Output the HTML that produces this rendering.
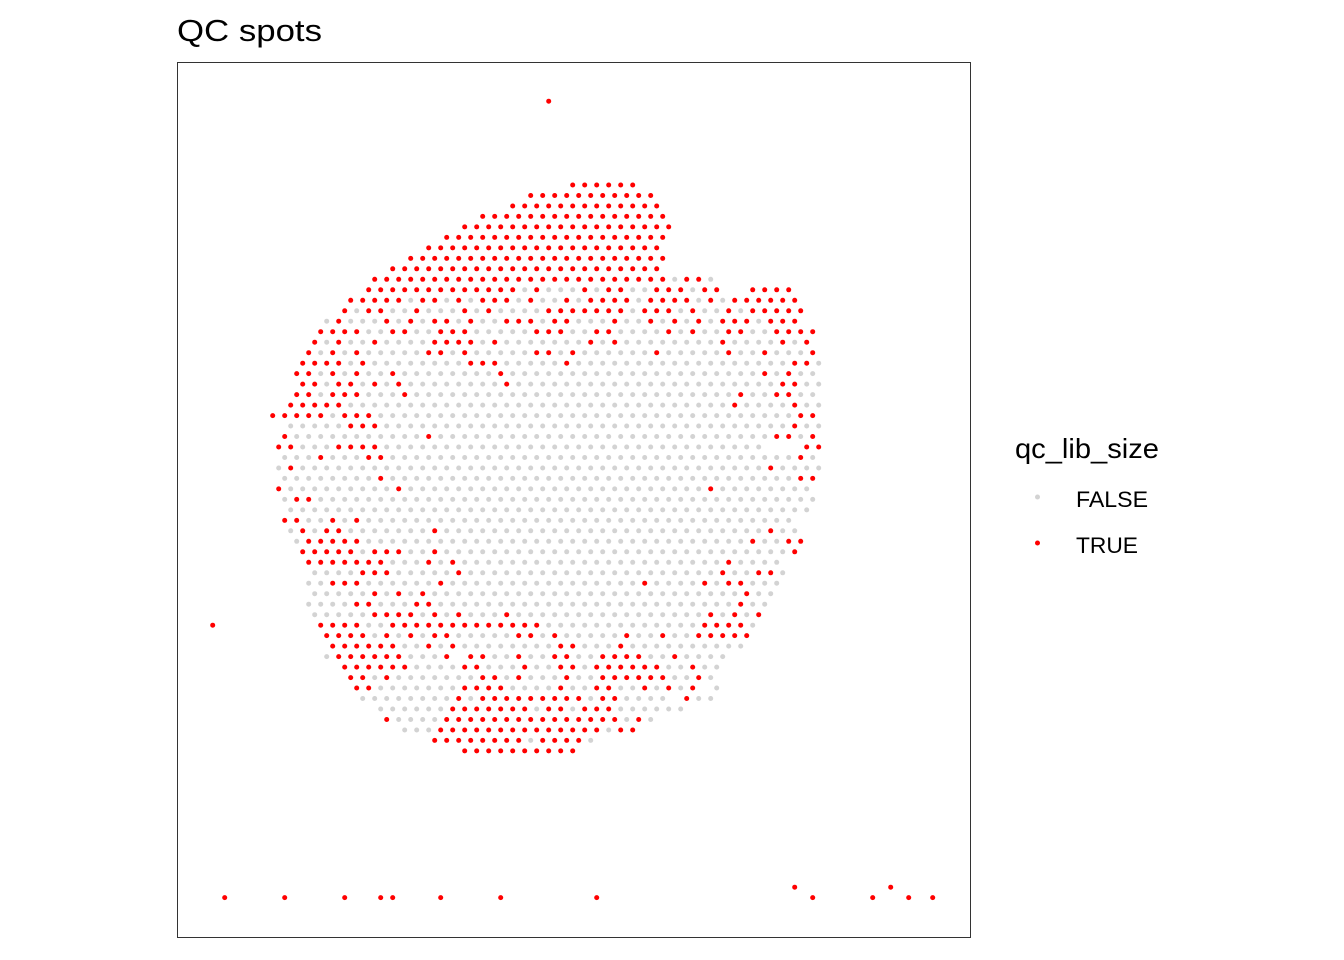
<!DOCTYPE html>
<html><head><meta charset="utf-8"><title>QC spots</title>
<style>html,body{margin:0;padding:0;background:#fff;}svg{display:block;font-family:"Liberation Sans",Arial,sans-serif;}</style>
</head><body>
<svg id="chart" width="1344" height="960" viewBox="0 0 1344 960">
<rect x="0" y="0" width="1344" height="960" fill="#fff"/>
<text x="177" y="41" font-size="31" textLength="145" lengthAdjust="spacingAndGlyphs" fill="#000">QC spots</text>
<rect x="177.5" y="62.5" width="793" height="875" fill="none" stroke="#333" stroke-width="1"/>
<g id="spots"></g>
<g>
<text x="1015" y="458" font-size="28" textLength="144" lengthAdjust="spacingAndGlyphs" fill="#000">qc_lib_size</text>
<circle cx="1037.5" cy="497" r="2.5" fill="#D3D3D3"/>
<text x="1076" y="507" font-size="22.5" textLength="72" lengthAdjust="spacingAndGlyphs" fill="#000">FALSE</text>
<circle cx="1037.5" cy="543" r="2.5" fill="#FF0000"/>
<text x="1076" y="553" font-size="22.5" textLength="62" lengthAdjust="spacingAndGlyphs" fill="#000">TRUE</text>
</g>
</svg>
<script>
// Tissue rows: startCol / endCol per row; columns step by 2 (hex grid)
const rowStart = [50,43,40,35,32,29,26,23,20,17,16,13,12,9,8,7,6,5,4,5,4,3,0,3,2,1,2,1,2,1,2,3,2,3,4,5,6,7,6,7,6,7,8,9,10,9,12,13,14,15,18,19,22,27,32];
const rowEnd   = [60,63,64,65,66,65,64,65,64,73,86,87,88,87,90,89,90,91,90,91,90,91,90,91,90,91,90,91,90,89,90,89,86,87,88,87,84,85,84,83,82,81,80,79,78,75,74,73,74,73,68,63,60,53,50];
// Red (qc_lib_size TRUE) spots per row; "a-b" means a range
const rowTrue = [
"50-60","43-63","40-64","35-65","32-66","29-65","26-64","23-65","20-64",
"17-65,69,71",
"16-40,44,52,56,58,64,66,68,72,74,80,82,84,86",
"13,15,17,19,21,25,27,31,35,37,39,43,49,53,55,57,59,63,65,67,69,73,77,79,81,83,85,87",
"12,16,18,24,32,36,46-58,62,64,66,70,76,80,82,84,86,88",
"11,19,23,27,29,33,39,41,43,47,49,57,63,67,71,75,77,79,83,85,87",
"8,10,12,14,20,22,28,30,32,44,46,48,54,56,66,70,76,78,84,86,88,90",
"7,11,17,27,29,31,33,37,53,57,75,85,89",
"6,10,14,26,28,32,44,46,50,64,76,82,90",
"5,7,9,11,15,33,35,37,49,87,89",
"4,6,10,14,20,38,82,86",
"5,7,11,13,17,21,39,85,87",
"4,6,10,12,14,22,78,84,86",
"3,5,7,9,11,77,87",
"0,2,4,6,8,12,14,16,88,90",
"13,15,17,87",
"2,26,84,86,90",
"1,3,11,13,15,17,89,91",
"8,16,18,88",
"3,83",
"18,88,90",
"1,21,73",
"4,6",
"",
"2,4,10,14",
"5,9,11,27,83",
"6,8,10,12,14,80,86,88",
"5,7,9,11,13,17,19,21,27,87",
"6-18,26,30,76",
"15,17,19,31,75,81,83",
"10,12,14,28,62,72,76,78",
"17,21,25,79",
"14,16,24,26,78",
"17,19,21,23,27,31,39,73,77,81",
"8,10,12,14,20-44,72-78",
"9,11,13,15,19,23,27,29,41,43,47,59,65,71-79",
"10-20,26,30,48,50,58",
"11-21,29,33,35,41,47,49,55-61,67",
"12-22,32,34,42,48,50,54-64,70",
"13,15,19,35,37,41,49,55-65,71",
"14,16,32,34,36,38,48,54,56,62,66,70",
"31,35-51,55,57,69",
"30-42,46,48,52,54,56",
"19,29-57,61",
"28-54,58,60",
"27-41,45-51",
"32-50"];
// Missing spots inside row ranges: "row:col"
const gaps = ["10:76","10:78","25:83","25:85","25:87","45:31","48:72","49:67"];
// Isolated off-tissue spots (all TRUE): grid rows / columns
const outRow = [-8,42,68,68,68,68,68,68,68,68,67,68,68,67,68,68];
const outCol = [46,-10,-8,2,12,18,20,28,38,54,87,90,100,103,106,110];

// axis functions (grid -> pixel)
const xs = c => 272.7 + 6 * c;
const ys = r => 185 + 10.48 * r;

function parseSet(s){const set=new Set();if(!s)return set;s.split(',').forEach(p=>{if(p.indexOf('-')>0){const [a,b]=p.split('-').map(Number);for(let k=a;k<=b;k+=2)set.add(k);}else set.add(Number(p));});return set;}
const NS='http://www.w3.org/2000/svg';
const layer=document.getElementById('spots');
const gapSet=new Set(gaps);
function dot(c,r,isTrue){
  const el=document.createElementNS(NS,'circle');
  el.setAttribute('cx',xs(c).toFixed(1));
  el.setAttribute('cy',ys(r).toFixed(1));
  el.setAttribute('r','2.5');
  el.setAttribute('fill',isTrue?'#FF0000':'#D3D3D3');
  
  
  layer.appendChild(el);
}
const falseEls=[],trueEls=[];
for(let r=0;r<rowStart.length;r++){
  const t=parseSet(rowTrue[r]);
  for(let c=rowStart[r];c<=rowEnd[r];c+=2){
    if(gapSet.has(r+':'+c))continue;
    (t.has(c)?trueEls:falseEls).push([c,r]);
  }
}
falseEls.forEach(p=>dot(p[0],p[1],false));
trueEls.forEach(p=>dot(p[0],p[1],true));
for(let i=0;i<outRow.length;i++)dot(outCol[i],outRow[i],true);
</script>
</body></html>
